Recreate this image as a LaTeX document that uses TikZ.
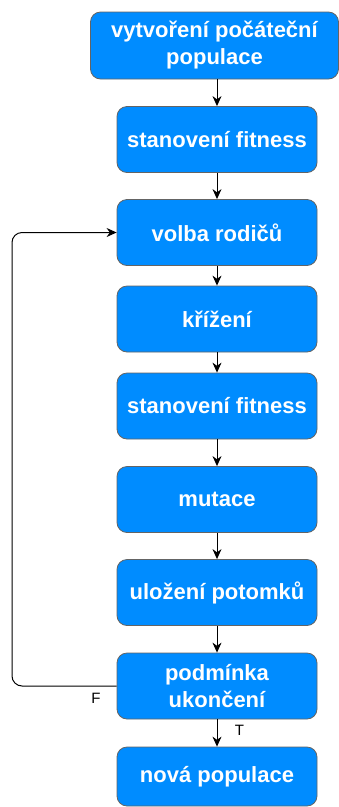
\documentclass[tikz,border=0pt]{standalone}
\usepackage{fontspec}
\setmainfont{Liberation Sans}
\usetikzlibrary{arrows, arrows.meta}
\definecolor{boxblue}{RGB}{0,140,255}
\definecolor{boxline}{RGB}{100,100,100}
\tikzset{krok/.style = {shape = rectangle, rounded corners = 10pt, draw = boxline, fill = boxblue, text = white, font = \fontsize{22}{27}\selectfont\bfseries, align = center, minimum width = 200pt, minimum height = 66pt, line width = 0.8pt}}
\tikzset{edge/.style = {-{Stealth[length = 10pt, width = 9pt]}, line width = 1pt, black}}

\begin{document}
\begin{tikzpicture}[x = 1pt, y = -1pt]
				\useasboundingbox (0, 0) rectangle (339, 807);
				\node[krok, minimum width = 248pt, minimum height = 67pt] (a) at (214.5, 45.5) {vytvoření počáteční\\populace};
				\node[krok] (b) at (217, 139.5) {stanovení fitness};
				\node[krok] (c) at (217, 232.5) {volba rodičů};
				\node[krok] (d) at (217, 319) {křížení};
				\node[krok] (e) at (217, 406) {stanovení fitness};
				\node[krok] (f) at (217, 499.5) {mutace};
				\node[krok] (g) at (217, 592.5) {uložení potomků};
				\node[krok] (h) at (217, 686) {podmínka\\ukončení};
				\node[krok, minimum height = 59pt] (i) at (217, 776.5) {nová populace};

				\draw[edge] (a.south -| b) to (b);
				\draw[edge] (b) to (c);
				\draw[edge] (c) to (d);
				\draw[edge] (d) to (e);
				\draw[edge] (e) to (f);
				\draw[edge] (f) to (g);
				\draw[edge] (g) to (h);
				\draw[edge] (h) to node[pos = 0.4, right = 14pt, text = black, font = \fontsize{15}{18}\selectfont] {T} (i);
				\draw[edge, rounded corners = 10pt] (h.west) -- (12, 686) -- (12, 232.5) -- (c.west);
				\node[font = \fontsize{15}{18}\selectfont] (fl) at (96, 698) {F};
			\end{tikzpicture}
\end{document}
